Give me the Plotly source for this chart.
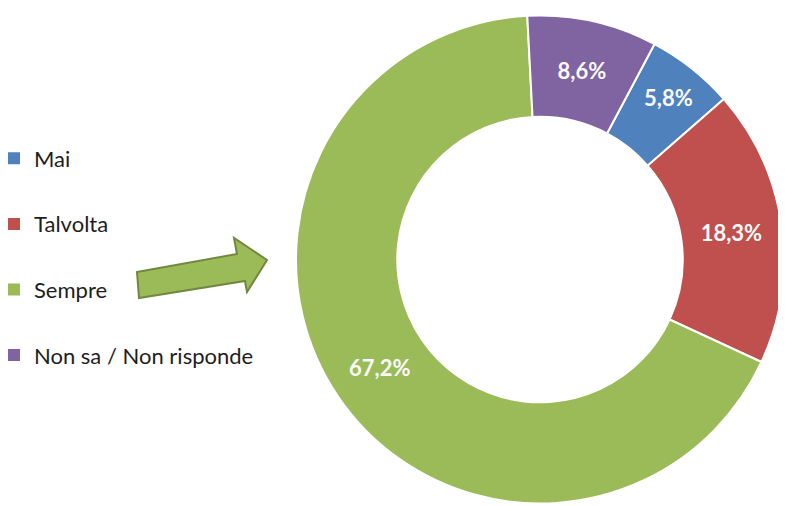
import plotly.graph_objects as go

labels = ["Mai", "Talvolta", "Sempre", "Non sa / Non risponde"]
values = [5.8, 18.3, 67.2, 8.6]
colors = ["#4F81BD", "#C0504D", "#9BBB59", "#8064A2"]

# the page body has an 8px margin: figure coordinates = window coordinates - 8
OFF = 8
W, H = 778, 498

def fx(x):
    return (x - OFF) / W

def fy(y):
    return 1 - (y - OFF) / H

# donut: centre (540, 259.5), outer radius 244 in window pixels
cx, cy, r = 540, 259.5, 244

fig = go.Figure()
fig.add_trace(go.Pie(
    labels=labels, values=values, sort=False, direction="clockwise", rotation=28,
    hole=0.585,
    marker=dict(colors=colors, line=dict(color="white", width=2)),
    texttemplate="%{value:.1f}%", textposition="inside",
    insidetextorientation="horizontal",
    textfont=dict(family="Lato", size=22, color="#FAFAFA", weight="bold"),
    showlegend=False, hoverinfo="label+percent",
    domain=dict(x=[fx(cx - r), min(1.0, fx(cx + r))], y=[max(0.0, fy(cy + r)), fy(cy - r)]),
))

for lab, col in zip(labels, colors):
    fig.add_trace(go.Scatter(
        x=[None], y=[None], mode="markers", name=lab, legendgroup=lab,
        marker=dict(symbol="square", size=10, color=col),
    ))

arrow = [(137, 272), (237, 254), (234, 238), (267, 260), (247, 292), (245, 281), (139, 298)]
path = "M " + " L ".join(f"{fx(x):.4f},{fy(y):.4f}" for x, y in arrow) + " Z"

fig.update_layout(
    width=W, height=H,
    margin=dict(l=0, r=0, t=0, b=0, autoexpand=False),
    paper_bgcolor="white", plot_bgcolor="white",
    separators=",.",
    xaxis=dict(visible=False), yaxis=dict(visible=False),
    showlegend=True,
    legend=dict(x=-14 / W, y=fy(137.5), xanchor="left", yanchor="top",
                font=dict(family="Lato", size=22, color="#1E1E1E"),
                tracegroupgap=34, traceorder="grouped",
                bgcolor="rgba(0,0,0,0)", itemsizing="constant"),
    shapes=[dict(type="path", path=path, xref="paper", yref="paper",
                 fillcolor="#9BBB59", line=dict(color="#71893F", width=2))],
)

fig.write_html("out.html")
